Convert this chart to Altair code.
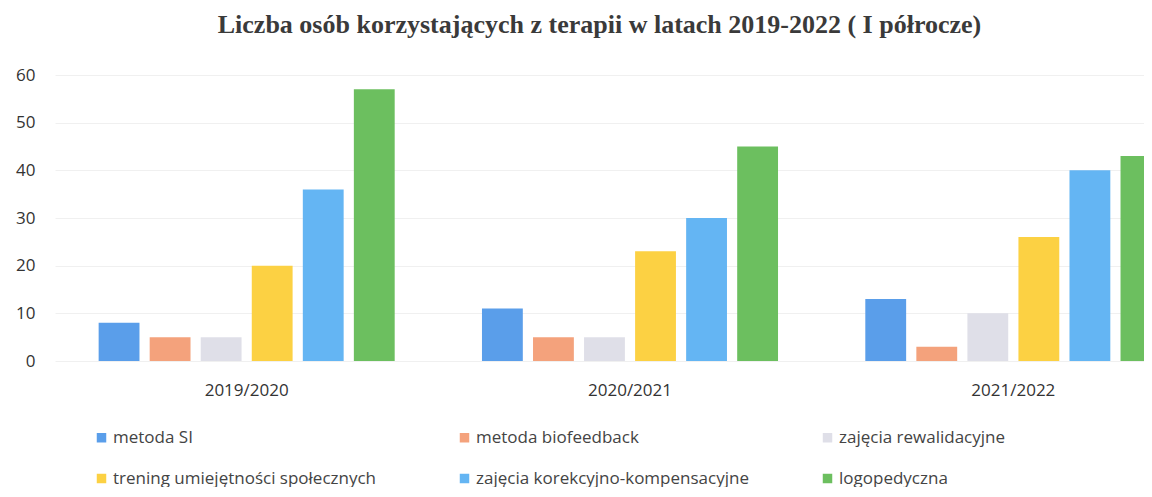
import altair as alt
import pandas as pd

years = ["2019/2020", "2020/2021", "2021/2022"]
therapies = [
    "metoda SI",
    "metoda biofeedback",
    "zajęcia rewalidacyjne",
    "trening umiejętności społecznych",
    "zajęcia korekcyjno-kompensacyjne",
    "logopedyczna",
]
values_2019 = [8, 5, 5, 20, 36, 57]
values_2020 = [11, 5, 5, 23, 30, 45]
values_2021 = [13, 3, 10, 26, 40, 43]
colors = ["#5a9eea", "#f4a27c", "#dfdfe8", "#fcd143", "#64b5f3", "#6cbf5f"]

rows = []
for y, vals in zip(years, [values_2019, values_2020, values_2021]):
    for t, v in zip(therapies, vals):
        rows.append({"rok": y, "terapia": t, "liczba": v})
df = pd.DataFrame(rows)

font = "Open Sans"

chart = alt.Chart(df).mark_bar(clip=True).encode(
    x=alt.X("rok:N", sort=years,
            scale=alt.Scale(range=[0, 1150], paddingInner=0, paddingOuter=0),
            axis=alt.Axis(title=None, labelAngle=0, domain=False, ticks=False,
                          labelFont=font, labelFontSize=17, labelColor="#333",
                          labelPadding=21)),
    xOffset=alt.XOffset("terapia:N", sort=therapies,
                        scale=alt.Scale(paddingInner=0.2, paddingOuter=0.855)),
    y=alt.Y("liczba:Q", scale=alt.Scale(domain=[0, 60]),
            axis=alt.Axis(title=None, values=[0, 10, 20, 30, 40, 50, 60],
                          domain=False, ticks=False, labelFont=font,
                          labelFontSize=17, labelColor="#333", labelPadding=20,
                          gridColor="#f0f0f0")),
    color=alt.Color("terapia:N", sort=therapies,
                    scale=alt.Scale(domain=therapies, range=colors),
                    legend=alt.Legend(title=None, orient="none", legendX=38,
                                      legendY=354, columns=3, direction="horizontal",
                                      symbolType="square", symbolSize=90,
                                      symbolStrokeWidth=0, labelFont=font,
                                      labelFontSize=17, labelColor="#444",
                                      labelOffset=3,
                                      columnPadding=70, rowPadding=23,
                                      labelLimit=400, gridAlign="all")),
).properties(
    width=1089,
    height=286,
    title=alt.TitleParams(
        "Liczba osób korzystających z terapii w latach 2019-2022 ( I półrocze)",
        font="Liberation Serif", fontSize=26, fontWeight="bold",
        color="#3a3a3a", anchor="middle", offset=28,
    ),
    autosize=alt.AutoSizeParams(type="none"),
    padding={"left": 47, "top": 67, "right": 0, "bottom": 126},
).configure_view(stroke=None)

chart.save("out.html", embed_options={"renderer": "svg", "actions": False})
